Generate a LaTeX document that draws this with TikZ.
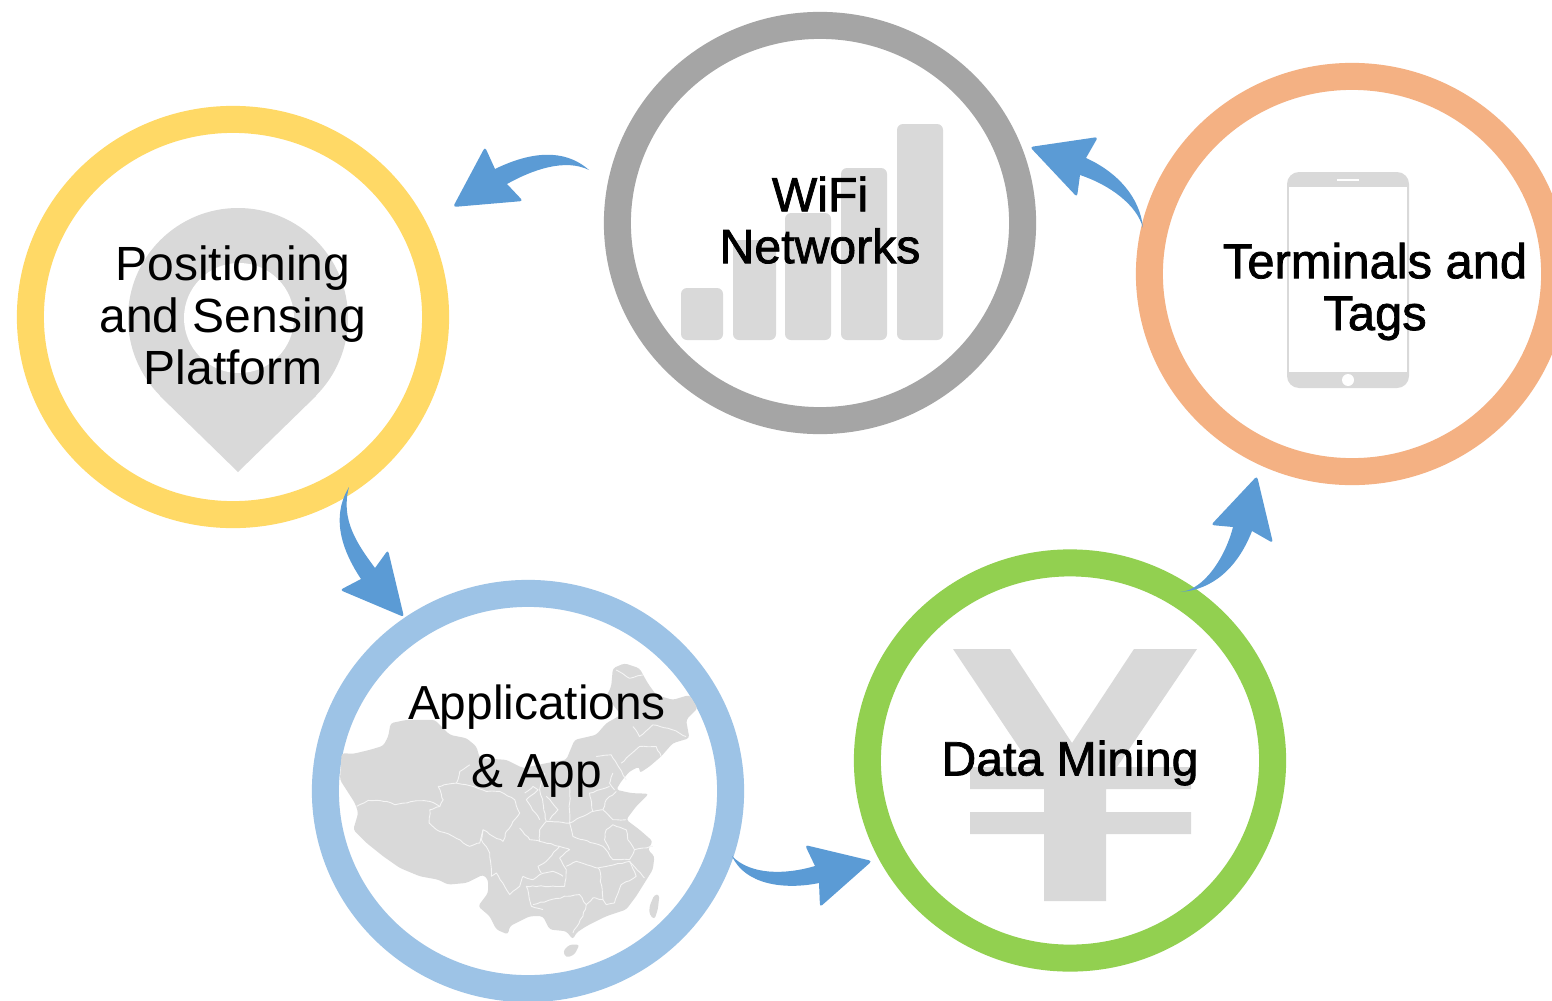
\documentclass[tikz,border=0pt]{standalone}
\usepackage{fontspec}
\usetikzlibrary{shapes.geometric,decorations.pathmorphing}
\setmainfont{Liberation Sans}
\newfontfamily\fakebold[FakeBold=1.5]{Liberation Sans}
\definecolor{ringyellow}{HTML}{FFD966}
\definecolor{ringgrey}{HTML}{A5A5A5}
\definecolor{ringorange}{HTML}{F4B183}
\definecolor{ringblue}{HTML}{9DC3E6}
\definecolor{ringgreen}{HTML}{92D050}
\definecolor{arrowblue}{HTML}{5B9BD5}
\definecolor{icongrey}{HTML}{D9D9D9}
\definecolor{bordergrey}{HTML}{F5F5F5}
\tikzset{
  ring/.style={ellipse,draw=#1,line width=0.27cm,fill=white,minimum width=4.05cm,minimum height=3.95cm,inner sep=0pt,outer sep=0pt},
  lbl/.style={align=center,inner sep=0pt,text=black},
  icon/.style={fill=icongrey,draw=none},
  bar/.style={fill=icongrey,draw=none,rounded corners=0.06cm},
  border/.style={draw=bordergrey,line width=0.009cm,line join=round,fill=none,decorate,decoration={random steps,segment length=0.04cm,amplitude=0.006cm}},
  flow/.style={fill=arrowblue,draw=none}
}
\begin{document}
\begin{tikzpicture}[x=0.01cm,y=-0.01cm]
\pgfmathsetseed{7}
\clip (0,0) rectangle (1552,1000);
\fill[white] (0,0) rectangle (1552,1000);
% rings
\node[ring=ringyellow] (pos) at (233,317) {};
\node[ring=ringgrey] (wifi) at (820,223) {};
\node[ring=ringorange] (term) at (1352,274) {};
\node[ring=ringblue] (apps) at (528,791) {};
\node[ring=ringgreen] (data) at (1070,760.5) {};
% pin icon
\fill[icon] (238,318) circle (110);
\fill[icon] (160,396) -- (238,472) -- (316,396) -- (238,318) -- cycle;
\fill[white] (239,318) circle (55);
% wifi bars
\fill[bar] (681,288) rectangle (723,340);
\fill[bar] (733,240) rectangle (776,340);
\fill[bar] (785,213) rectangle (831,340);
\fill[bar] (841,168) rectangle (887,340);
\fill[bar] (897,124) rectangle (943,340);
% phone
\fill[icon,rounded corners=0.12cm] (1287,172) rectangle (1409,388);
\fill[white] (1289,187) rectangle (1407,372);
\fill[white] (1337,178.5) rectangle (1359,180.5);
\fill[white] (1348,380) circle (6);
% yen
\fill[icon] (953,649) -- (1010,649) -- (1072,743) -- (1134,649) -- (1197,649) -- (1117,767) -- (1191,767) -- (1191,789) -- (1106,789) -- (1106,812) -- (1191,812) -- (1191,834) -- (1106,834) -- (1106,901) -- (1044,901) -- (1044,834) -- (970,834) -- (970,812) -- (1044,812) -- (1044,789) -- (970,789) -- (970,767) -- (1032,767) -- cycle;
% map of China
\begin{scope}[shift={(320,640)},x=0.003333cm,y=-0.003333cm]
\fill[icon,rounded corners=0.03cm] (65,340) -- (100,342) -- (150,330) -- (190,318) -- (205,290) -- (212,250) -- (260,240) -- (345,240) -- (390,285) -- (440,295) -- (470,320) -- (480,355) -- (560,360) -- (610,385) -- (680,370) -- (740,360) -- (765,300) -- (830,285) -- (860,250) -- (905,225) -- (860,170) -- (875,140) -- (880,85) -- (915,70) -- (960,85) -- (985,130) -- (1010,165) -- (1060,180) -- (1110,165) -- (1135,205) -- (1100,240) -- (1110,295) -- (1060,310) -- (1025,350) -- (990,380) -- (960,400) -- (960,380) -- (930,395) -- (905,425) -- (890,450) -- (935,460) -- (988,462) -- (950,500) -- (920,540) -- (960,570) -- (1000,605) -- (985,630) -- (1005,650) -- (1000,690) -- (975,730) -- (950,770) -- (920,810) -- (860,830) -- (800,860) -- (770,880) -- (760,900) -- (740,875) -- (690,870) -- (670,830) -- (630,830) -- (570,860) -- (565,885) -- (530,870) -- (510,830) -- (475,800) -- (505,760) -- (505,720) -- (490,705) -- (440,730) -- (385,735) -- (355,720) -- (300,710) -- (240,685) -- (190,650) -- (140,610) -- (100,570) -- (115,520) -- (105,490) -- (60,420) -- cycle;
\fill[icon,rounded corners=0.03cm] (730,935) -- (750,915) -- (780,915) -- (765,945) -- (740,955) -- cycle;
\fill[icon,rounded corners=0.03cm] (990,800) -- (1005,765) -- (1020,765) -- (1015,810) -- (1005,840) -- (990,825) -- cycle;
\draw[border] (110,500) -- (145,482) -- (200,485) -- (225,495) -- (290,483) -- (330,485) -- (360,500);
\draw[border] (330,510) -- (328,550) -- (350,570) -- (400,590) -- (450,620) -- (480,610) -- (490,570) -- (520,590) -- (550,605) -- (560,575) -- (600,520) -- (585,480) -- (540,455) -- (500,455) -- (460,440) -- (410,430) -- (355,440) -- (370,480) -- (360,500) -- cycle;
\draw[border] (410,430) -- (420,395) -- (450,375);
\draw[border] (490,570) -- (485,600) -- (510,640) -- (515,710) -- (530,700) -- (570,765) -- (600,740) -- (610,710) -- (640,720) -- (660,705) -- (700,695) -- (730,710);
\draw[border] (600,565) -- (630,600) -- (660,605) -- (720,620) -- (680,665) -- (655,680) -- (665,700);
\draw[border] (720,620) -- (750,630) -- (720,655) -- (740,690) -- (735,740) -- (620,740) -- (635,800) -- (670,810);
\draw[border] (640,795) -- (740,770) -- (780,765) -- (800,795) -- (790,830) -- (760,880);
\draw[border] (740,680) -- (770,665) -- (835,685) -- (840,690) -- (850,780) -- (820,775) -- (800,795);
\draw[border] (835,685) -- (930,665) -- (950,710) -- (905,735) -- (885,790) -- (860,795) -- (850,780);
\draw[border] (930,665) -- (975,715);
\draw[border] (660,605) -- (660,570) -- (680,545) -- (670,490) -- (660,450) -- (675,400);
\draw[border] (680,545) -- (750,550) -- (760,590) -- (790,600) -- (850,620) -- (880,660) -- (930,660) -- (945,630) -- (1000,620);
\draw[border] (750,550) -- (820,515) -- (810,460) -- (870,440);
\draw[border] (860,570) -- (880,555) -- (920,570) -- (925,600) -- (945,630);
\draw[border] (860,570) -- (855,600) -- (870,630);
\draw[border] (820,515) -- (850,510) -- (880,540) -- (920,540);
\draw[border] (850,510) -- (860,480) -- (890,455);
\draw[border] (830,350) -- (875,345) -- (900,385) -- (920,420);
\draw[border] (905,370) -- (960,320) -- (1010,320) -- (1025,350);
\draw[border] (940,260) -- (960,290) -- (1000,255) -- (1060,270) -- (1100,290);
\draw[border] (880,400) -- (870,430) -- (885,450);
\draw[border] (615,460) -- (640,440) -- (655,450) -- (620,480) -- (660,540);
\draw[border] (750,440) -- (750,550);
\draw[border] (680,470) -- (715,510) -- (690,540);
\draw[border] (890,90) -- (930,115) -- (970,105);
\end{scope}
% labels
\node[lbl,font=\fontsize{13.65}{14.75}\selectfont] (posl) at (233,315.5) {Positioning\\and Sensing\\Platform};
\node[lbl,font=\fakebold\fontsize{13.7}{14.75}\selectfont] (wifil) at (820,220) {WiFi\\Networks};
\node[lbl,font=\fakebold\fontsize{13.9}{14.75}\selectfont] (terml) at (1375,291.5) {Terminals and\\Tags};
\node[lbl,font=\fontsize{13.6}{19.3}\selectfont] (appsl) at (537,741) {Applications\\\& App};
\node[lbl,font=\fakebold\fontsize{13.7}{14.75}\selectfont] (datal) at (1070,763) {Data Mining};
% arrows
\coordinate (tailA) at (589,170); \coordinate (tipA) at (453,207);
\fill[flow] (tailA) .. controls (570,153) and (540,147) .. (495,169) [rounded corners=0.03cm] -- (485,147) -- (tipA) -- (523,201) [sharp corners] -- (507,184) .. controls (532,170) and (565,158) .. (tailA) -- cycle;
\coordinate (tailB) at (349,487); \coordinate (tipB) at (404,617);
\fill[flow] (tailB) .. controls (335,510) and (335,540) .. (361,579) [rounded corners=0.03cm] -- (340,590) -- (tipB) -- (388,550) [sharp corners] -- (375,568) .. controls (358,545) and (340,520) .. (tailB) -- cycle;
\coordinate (tailC) at (732,856); \coordinate (tipC) at (872,861);
\fill[flow] (tailC) .. controls (750,875) and (785,875) .. (815,866) [rounded corners=0.03cm] -- (805,845) -- (tipC) -- (820,907) [sharp corners] -- (819,883) .. controls (785,890) and (745,885) .. (tailC) -- cycle;
\coordinate (tailD) at (1180,592); \coordinate (tipD) at (1257,476);
\fill[flow] (tailD) .. controls (1213,590) and (1238,567) .. (1252,531) [rounded corners=0.03cm] -- (1273,543) -- (tipD) -- (1211,525) [sharp corners] -- (1233,527) .. controls (1226,555) and (1205,590) .. (tailD) -- cycle;
\coordinate (tailE) at (1143,228); \coordinate (tipE) at (1030,147);
\fill[flow] (tailE) .. controls (1140,197) and (1117,172) .. (1086,158) [rounded corners=0.03cm] -- (1098,137) -- (tipE) -- (1077,197) [sharp corners] -- (1080,175) .. controls (1110,185) and (1137,205) .. (tailE) -- cycle;
\end{tikzpicture}
\end{document}
